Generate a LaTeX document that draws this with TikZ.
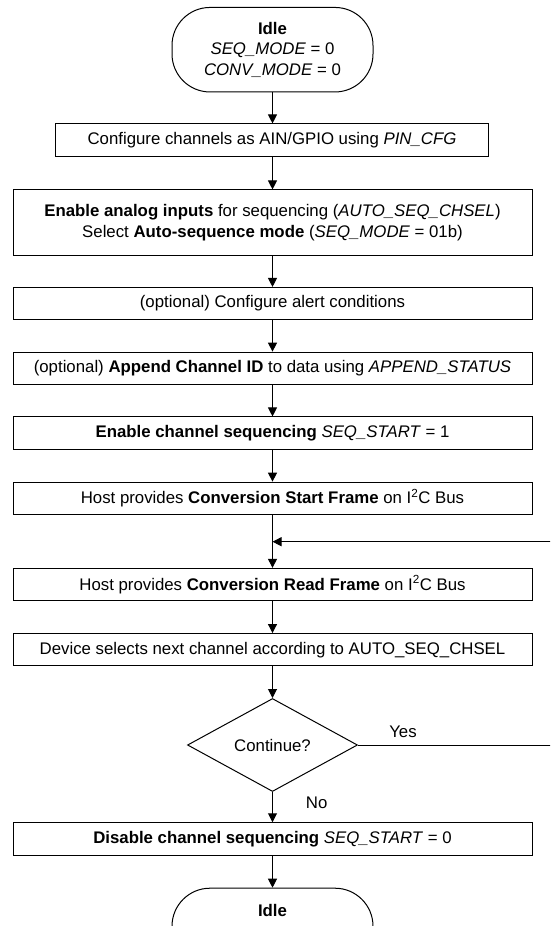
\documentclass[tikz,border=0pt]{standalone}
\usepackage{fontspec}
\setmainfont{Liberation Sans}
\usetikzlibrary{arrows.meta,shapes.geometric}
\begin{document}
\begin{tikzpicture}[x=1pt,y=-1pt,
  base/.style={draw=black, line width=1pt, inner sep=0pt, align=center,
    font=\fontsize{16.8}{20.5}\selectfont},
  procbox/.style={base, rectangle, minimum height=32.3pt},
  wide/.style={procbox, minimum width=519pt},
  terminal/.style={base, rectangle, rounded corners=38pt, minimum width=201pt, minimum height=84.5pt},
  decision/.style={base, diamond, minimum width=170pt, minimum height=93pt},
  flow/.style={line width=1pt, -{Triangle[width=9pt,length=9pt]}},
  plain/.style={line width=1pt},
  lbl/.style={inner sep=0pt, font=\fontsize{16.8}{20.5}\selectfont}
]
\useasboundingbox (0,0) rectangle (550,926);
\clip (0,0) rectangle (550,926);

\node[terminal] (idleT) at (272.5,49.7) {\textbf{Idle}\\\textit{SEQ\_MODE} = 0\\\textit{CONV\_MODE} = 0};
\node[procbox, minimum width=433pt] (b1) at (272,140.1) {Configure channels as AIN/GPIO using \textit{PIN\_CFG}};
\node[wide, minimum height=65.5pt] (b2) at (272.5,222.7) {\textbf{Enable analog inputs} for sequencing (\textit{AUTO\_SEQ\_CHSEL})\\Select \textbf{Auto-sequence mode} (\textit{SEQ\_MODE} = 01b)};
\node[wide] (b3) at (272.5,303.6) {(optional) Configure alert conditions};
\node[wide] (b4) at (272.5,368.3) {(optional) \textbf{Append Channel ID} to data using \textit{APPEND\_STATUS}};
\node[wide] (b5) at (272.5,433.1) {\textbf{Enable channel sequencing} \textit{SEQ\_START} = 1};
\node[wide] (b6) at (272.5,498.3) {Host provides \textbf{Conversion Start Frame} on I\textsuperscript{2}C Bus};
\node[wide] (b7) at (272.5,584.5) {Host provides \textbf{Conversion Read Frame} on I\textsuperscript{2}C Bus};
\node[wide] (b8) at (272.5,649.7) {Device selects next channel according to AUTO\_SEQ\_CHSEL};
\node[decision] (dec) at (272.5,745) {Continue?};
\node[wide] (b9) at (272.5,838.9) {\textbf{Disable channel sequencing} \textit{SEQ\_START} = 0};
\node[terminal, anchor=north] (idleB) at (272.5,887.7) {\textbf{Idle}\\\phantom{X}\\\phantom{X}};

\node[lbl] (yes) at (403,731.7) {Yes};
\node[lbl] (no) at (316.7,803) {No};

\coordinate (loopJ) at (272.5,541.7);
\coordinate (loopR) at (560,541.7);
\coordinate (yesR) at (560,745);

\draw[flow] (idleT) -- (idleT |- b1.north);
\draw[flow] (b1.south -| b2) -- (b2);
\draw[flow] (b2) -- (b3);
\draw[flow] (b3) -- (b4);
\draw[flow] (b4) -- (b5);
\draw[flow] (b5) -- (b6);
\draw[flow] (b6) -- (b7);
\draw[flow] (loopR) -- (loopJ);
\draw[flow] (b7) -- (b8);
\draw[flow] (b8) -- (dec);
\draw[plain] (dec.east) -- (yesR);
\draw[flow] (dec.south) -- (b9.north);
\draw[flow] (b9) -- (idleB);
\end{tikzpicture}
\end{document}
